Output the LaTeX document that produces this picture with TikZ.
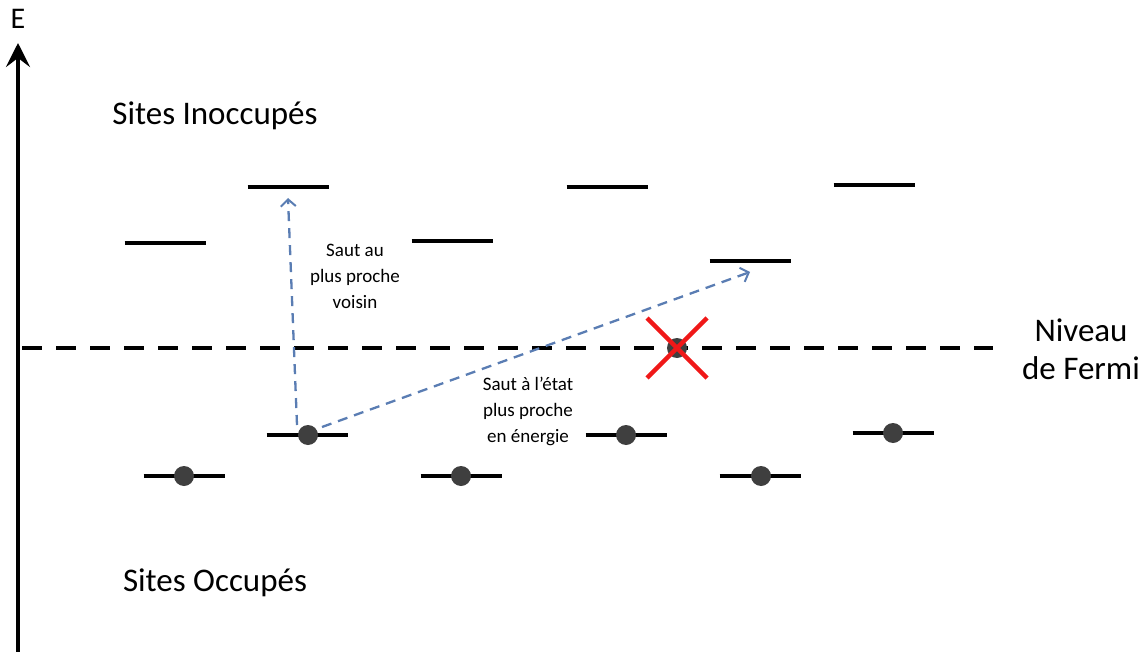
\documentclass[tikz,border=0pt]{standalone}
\usepackage{fontspec}
\setmainfont{Carlito}
\usetikzlibrary{arrows.meta}
\definecolor{dotgray}{HTML}{3F3F3F}
\definecolor{jumpblue}{HTML}{5A7DB3}
\definecolor{crossred}{HTML}{F01818}
\tikzset{
  level/.style={line width=4pt, black},
  site/.style={circle, fill=dotgray, minimum size=20pt, inner sep=0pt},
  jump/.style={jumpblue, line width=2.3pt, dash pattern=on 10pt off 7pt, -{Straight Barb[length=7pt,width=15pt,line width=2pt]}},
  bigtxt/.style={font=\fontsize{33}{38}\selectfont, align=center, inner sep=0pt},
  smalltxt/.style={font=\fontsize{19}{26}\selectfont, align=center, inner sep=0pt},
  fermitxt/.style={font=\fontsize{33}{38}\selectfont, align=center, inner sep=0pt},
}
\begin{document}
\begin{tikzpicture}[x=1pt,y=-1pt]
\useasboundingbox (0,0) rectangle (1147,652);
% axis
\coordinate (axb) at (18,652);
\coordinate (axt) at (18,43);
\draw[line width=4pt, -{Stealth[length=24pt,width=24pt,inset=9pt]}] (axb) -- (axt);
\node[font=\fontsize{30}{34}\selectfont, inner sep=0pt] (E) at (18,19) {E};
% Fermi level
\coordinate (fl) at (22,348);
\coordinate (fr) at (993,348);
\draw[line width=4pt, dash pattern=on 20pt off 14pt] (fl) -- (fr);
% empty levels
\foreach \n/\x/\y in {u1/165/243, u2/288/187, u3/452/241, u4/607/187, u5/750/261, u6/874/185}{
  \coordinate (\n) at (\x,\y);
  \draw[level] ([xshift=-40.5pt]\n) -- ([xshift=40.5pt]\n);
}
% occupied levels
\foreach \n/\x/\y/\d in {o1/307/435/308, o2/184/476/184, o3/461/476/461, o4/626/435/626, o5/760/476/761, o6/893/433/893}{
  \coordinate (\n) at (\x,\y);
  \draw[level] ([xshift=-40.5pt]\n) -- ([xshift=40.5pt]\n);
  \node[site] (d\n) at (\d,\y) {};
}
% site at Fermi level
\node[site] (df) at (677,348) {};
\draw[crossred, line width=4.5pt] ([shift={(-30,-30)}]df.center) -- ([shift={(30,30)}]df.center);
\draw[crossred, line width=4.5pt] ([shift={(30,-30)}]df.center) -- ([shift={(-30,30)}]df.center);
% jumps
\coordinate (t1) at (288,198);
\coordinate (t2) at (750,272);
\draw[jump] ([shift={(-11,-10)}]do1.center) -- (t1);
\draw[jump] ([shift={(14,-8)}]do1.center) -- (t2);
% labels
\node[bigtxt] (inocc) at (215,116) {Sites Inoccupés};
\node[bigtxt] (occ) at (215,583) {Sites Occupés};
\node[smalltxt] (l1) at (355,276) {Saut au\\plus proche\\voisin};
\node[smalltxt] (l2) at (528,411) {Saut à l’état\\plus proche\\en énergie};
\node[fermitxt] (fermi) at (1081,349) {Niveau\\de Fermi};
\end{tikzpicture}
\end{document}
